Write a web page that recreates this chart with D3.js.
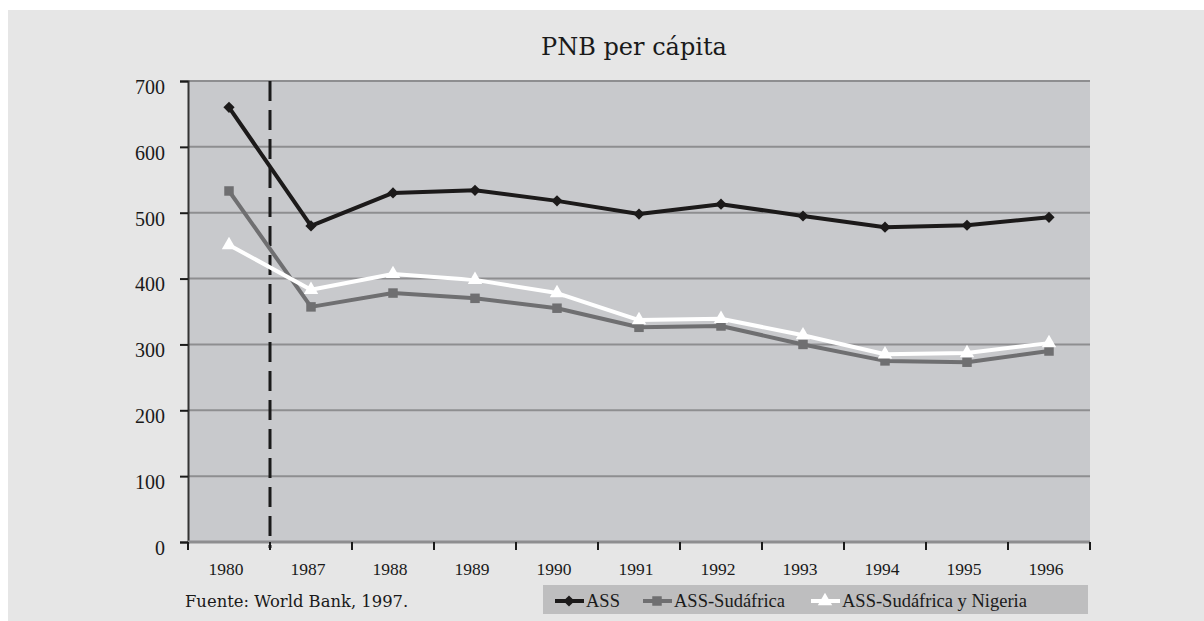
<!DOCTYPE html>
<html>
<head>
<meta charset="utf-8">
<script src="https://cdn.jsdelivr.net/npm/d3@7"></script>
<style>
  body { margin: 0; background: #ffffff; }
  text { font-family: "Liberation Serif", "DejaVu Serif", serif; }
</style>
</head>
<body>
<div id="chart"></div>
<script>
var width = 1204
var height = 621

var years = ["1980", "1987", "1988", "1989", "1990", "1991", "1992", "1993", "1994", "1995", "1996"]
var ass = [660, 480, 530, 534, 518, 498, 513, 495, 478, 481, 493]
var assSud = [533, 357, 378, 370, 355, 326, 328, 300, 275, 273, 290]
var assSudNig = [451, 383, 407, 398, 378, 337, 339, 314, 285, 287, 302]
var yTicks = [0, 100, 200, 300, 400, 500, 600, 700]
var seriesNames = ["ASS", "ASS-Sudáfrica", "ASS-Sudáfrica y Nigeria"]

var series = [
  { name: seriesNames[0], values: ass, color: "#1c1a1a", symbol: d3.symbolDiamond2, size: 80 },
  { name: seriesNames[1], values: assSud, color: "#6f6f71", symbol: d3.symbolSquare, size: 90 },
  { name: seriesNames[2], values: assSudNig, color: "#ffffff", symbol: d3.symbolTriangle, size: 90 }
]

var plot = { left: 188, top: 81, right: 1090, bottom: 542 }

var svg = d3.select("#chart")
  .append("svg")
    .attr("width", width)
    .attr("height", height)

// outer panel
svg.append("rect")
  .attr("x", 8).attr("y", 10)
  .attr("width", width - 8).attr("height", height - 10)
  .attr("fill", "#e6e6e6")

svg.append("text")
  .attr("x", 634).attr("y", 55)
  .attr("text-anchor", "middle")
  .style("font-family", "DejaVu Serif, serif")
  .style("font-size", "24px")
  .attr("fill", "#1a1a1a")
  .text("PNB per cápita")

var x = d3.scaleBand()
  .domain(years)
  .range([plot.left, plot.right])

var y = d3.scaleLinear()
  .domain([0, 700])
  .range([plot.bottom, plot.top])

// plot area
svg.append("rect")
  .attr("x", plot.left).attr("y", plot.top)
  .attr("width", plot.right - plot.left).attr("height", plot.bottom - plot.top)
  .attr("fill", "#c8c9cc")

// gridlines
svg.append("g")
  .selectAll("line")
  .data(yTicks)
  .enter()
  .append("line")
    .attr("x1", plot.left).attr("x2", plot.right)
    .attr("y1", function(d) { return y(d) })
    .attr("y2", function(d) { return y(d) })
    .attr("stroke", "#8e8e90")
    .attr("stroke-width", 2)

// y axis
var yAxis = svg.append("g")
  .attr("transform", "translate(" + plot.left + ",0)")
  .call(d3.axisLeft(y).tickValues(yTicks).tickSize(8).tickPadding(15))
yAxis.select(".domain").attr("stroke", "#333").attr("stroke-width", 2)
yAxis.selectAll(".tick line").attr("stroke", "#1a1a1a").attr("stroke-width", 2)
yAxis.selectAll("text")
  .attr("dy", "0.62em")
  .style("font-size", "20px")
  .style("font-family", "Liberation Serif, serif")
  .attr("fill", "#1a1a1a")

// x axis: ticks at band boundaries
var bounds = years.map(function(d) { return x(d) }).concat([plot.right])
svg.append("line")
  .attr("x1", plot.left).attr("x2", plot.right)
  .attr("y1", plot.bottom).attr("y2", plot.bottom)
  .attr("stroke", "#8e8e90").attr("stroke-width", 3)
svg.append("g")
  .selectAll("line")
  .data(bounds)
  .enter()
  .append("line")
    .attr("x1", function(d) { return d }).attr("x2", function(d) { return d })
    .attr("y1", plot.bottom).attr("y2", plot.bottom + 8)
    .attr("stroke", "#1a1a1a").attr("stroke-width", 2)
svg.append("g")
  .selectAll("text")
  .data(years)
  .enter()
  .append("text")
    .attr("x", function(d) { return x(d) + x.bandwidth() / 2 - 3 })
    .attr("y", 575)
    .attr("text-anchor", "middle")
    .style("font-size", "17.5px")
    .attr("fill", "#1a1a1a")
    .text(function(d) { return d })

// dashed separator between 1980 and 1987
svg.append("line")
  .attr("x1", x("1987")).attr("x2", x("1987"))
  .attr("y1", plot.top).attr("y2", plot.bottom + 6)
  .attr("stroke", "#1a1a1a")
  .attr("stroke-width", 3)
  .attr("stroke-dasharray", "20,9")

var line = d3.line()
  .x(function(d, i) { return x(years[i]) + x.bandwidth() / 2 })
  .y(function(d) { return y(d) })

series.forEach(function(s) {
  svg.append("path")
    .datum(s.values)
    .attr("d", line)
    .attr("fill", "none")
    .attr("stroke", s.color)
    .attr("stroke-width", 4)
    .attr("stroke-linejoin", "round")
  svg.append("g")
    .selectAll("path")
    .data(s.values)
    .enter()
    .append("path")
      .attr("transform", function(d, i) {
        return "translate(" + (x(years[i]) + x.bandwidth() / 2) + "," + y(d) + ")"
      })
      .attr("d", d3.symbol().type(s.symbol).size(s.size))
      .attr("fill", s.color)
})

// source
svg.append("text")
  .attr("x", 185).attr("y", 607)
  .style("font-family", "DejaVu Serif, serif")
  .style("font-size", "16.4px")
  .attr("fill", "#1a1a1a")
  .text("Fuente: World Bank, 1997.")

// legend
var legend = svg.append("g")
legend.append("rect")
  .attr("x", 543).attr("y", 585)
  .attr("width", 545).attr("height", 29)
  .attr("fill", "#bebebf")

var legendX = [555, 643, 811]
series.forEach(function(s, i) {
  var g = legend.append("g").attr("transform", "translate(" + legendX[i] + ",601)")
  g.append("line")
    .attr("x1", 0).attr("x2", 29)
    .attr("stroke", s.color).attr("stroke-width", 4)
  g.append("path")
    .attr("transform", "translate(14,0)")
    .attr("d", d3.symbol().type(s.symbol).size(s.size))
    .attr("fill", s.color)
  g.append("text")
    .attr("x", 31).attr("y", 6)
    .style("font-size", "18.5px")
    .attr("fill", "#1a1a1a")
    .text(s.name)
})
</script>
</body>
</html>
